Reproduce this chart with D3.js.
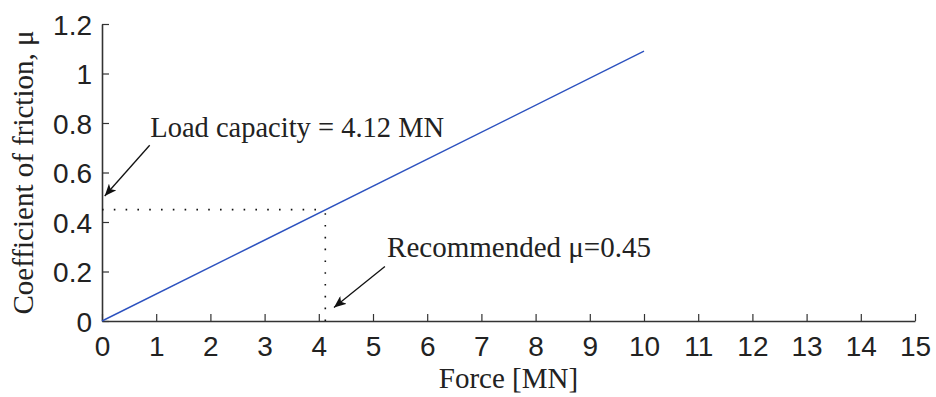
<!DOCTYPE html>
<html>
<head>
<meta charset="utf-8">
<script src="https://cdn.jsdelivr.net/npm/d3@7"></script>
<style>
  html, body { margin: 0; padding: 0; background: #fff; }
  svg { display: block; }
</style>
</head>
<body>
<script>
// ---- data ----
const xTicks = [0,1,2,3,4,5,6,7,8,9,10,11,12,13,14,15];
const yTicks = [0, 0.2, 0.4, 0.6, 0.8, 1, 1.2];
const forceMN = [0, 10];
const mu = [0, 1.09];
const loadCapacity = 4.12;
const recommendedMu = 0.45;
const labelLoad = "Load capacity = 4.12 MN";
const labelRec = "Recommended \u03bc=0.45";
const xLabel = "Force [MN]";
const yLabel = "Coefficient of friction, \u03bc";

const W = 936, H = 397;
const m = { left: 102, right: 21, top: 24, bottom: 76 };

const svg = d3.select("body").append("svg").attr("width", W).attr("height", H);

const x = d3.scaleLinear().domain([0, 15]).range([m.left, W - m.right]);
const y = d3.scaleLinear().domain([0, 1.2]).range([H - m.bottom, m.top]);

const axisColor = "#333";
const tickFont = "Liberation Sans, Arial, Helvetica, sans-serif";
const serif = "Liberation Serif, Times New Roman, serif";

// x axis
const gx = svg.append("g").attr("transform", `translate(0,${y(0)})`)
  .call(d3.axisBottom(x).tickValues(xTicks).tickSizeInner(-7).tickSizeOuter(0).tickPadding(0).tickFormat(d3.format("d")));
gx.select(".domain").attr("stroke", axisColor).attr("stroke-width", 1.6);
gx.selectAll(".tick line").attr("stroke", axisColor).attr("stroke-width", 1.2);
gx.selectAll(".tick text").attr("fill", "#222").attr("font-family", tickFont).attr("font-size", 28)
  .attr("dy", null).attr("y", 35);

// y axis
const gy = svg.append("g").attr("transform", `translate(${x(0)},0)`)
  .call(d3.axisLeft(y).tickValues(yTicks).tickSizeInner(-7).tickSizeOuter(0).tickPadding(0).tickFormat(d => d3.format("")(d)));
gy.select(".domain").attr("stroke", axisColor).attr("stroke-width", 1.6);
gy.selectAll(".tick line").attr("stroke", axisColor).attr("stroke-width", 1.2);
gy.selectAll(".tick text").attr("fill", "#222").attr("font-family", tickFont).attr("font-size", 28)
  .attr("x", -10).attr("dy", "0.36em");

// dotted guides
const dotStyle = g => g.attr("stroke", "#111").attr("stroke-width", 1.6).attr("stroke-dasharray", "1.6,10.2").attr("fill", "none");
svg.append("line").attr("x1", x(0)).attr("x2", x(loadCapacity)).attr("y1", y(recommendedMu)).attr("y2", y(recommendedMu)).call(dotStyle);
svg.append("line").attr("x1", x(loadCapacity)).attr("x2", x(loadCapacity)).attr("y1", y(0)).attr("y2", y(recommendedMu)).call(dotStyle);

// data line
const line = d3.line().x(d => x(d[0])).y(d => y(d[1]));
svg.append("path").datum(d3.zip(forceMN, mu)).attr("d", line)
  .attr("fill", "none").attr("stroke", "#2d52bf").attr("stroke-width", 1.4);

// arrows
const defs = svg.append("defs");
defs.append("marker").attr("id", "arr").attr("viewBox", "0 0 12 10").attr("refX", 12).attr("refY", 5)
  .attr("markerWidth", 12).attr("markerHeight", 10).attr("markerUnits", "userSpaceOnUse").attr("orient", "auto")
  .append("path").attr("d", "M0,0 L12,5 L0,10 L3,5 Z").attr("fill", "#111");

function arrow(x1, y1, x2, y2) {
  svg.append("line").attr("x1", x1).attr("y1", y1).attr("x2", x2).attr("y2", y2)
    .attr("stroke", "#111").attr("stroke-width", 1.3).attr("marker-end", "url(#arr)");
}
arrow(x(0.88), y(0.71), x(0.05), y(0.505));
arrow(x(5.22), y(0.22), x(4.28), y(0.055));

// annotation texts
svg.append("text").attr("x", x(0.89)).attr("y", y(0.742)).attr("font-family", serif).attr("font-size", 28.5)
  .attr("fill", "#222").text(labelLoad);
svg.append("text").attr("x", x(5.26)).attr("y", y(0.26)).attr("font-family", serif).attr("font-size", 29)
  .attr("fill", "#222").text(labelRec);

// axis labels
svg.append("text").attr("x", (x(0) + x(15)) / 2).attr("y", 388).attr("text-anchor", "middle")
  .attr("font-family", serif).attr("font-size", 29).attr("fill", "#222").text(xLabel);
svg.append("text").attr("transform", `translate(33,${(y(0) + y(1.2)) / 2}) rotate(-90)`).attr("text-anchor", "middle")
  .attr("font-family", serif).attr("font-size", 29).attr("fill", "#222").text(yLabel);
</script>
</body>
</html>
